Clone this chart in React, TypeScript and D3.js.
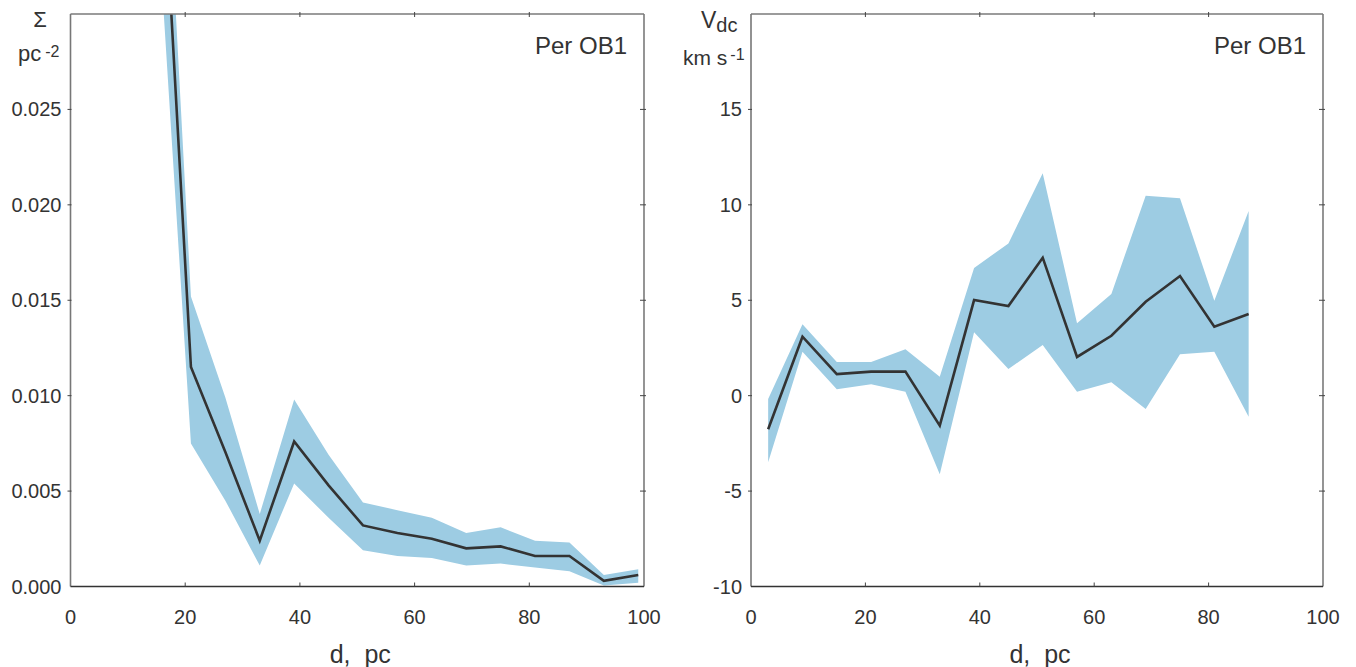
import React from "react";
import * as d3 from "d3";

// ---- Data ----
const distLeft = [3, 9, 15, 21, 27, 33, 39, 45, 51, 57, 63, 69, 75, 81, 87, 93, 99];
const sigma = [0.12, 0.075, 0.044, 0.0115, 0.00705, 0.0024, 0.0076, 0.0053, 0.0032, 0.0028, 0.0025, 0.002, 0.0021, 0.0016, 0.0016, 0.0003, 0.0006];
const sigmaLo = [0.1, 0.06, 0.036, 0.0075, 0.0045, 0.0011, 0.0054, 0.0036, 0.0019, 0.0016, 0.0015, 0.0011, 0.0012, 0.001, 0.0008, 0.00005, 0.0002];
const sigmaHi = [0.14, 0.09, 0.049, 0.0152, 0.0099, 0.0038, 0.0098, 0.0069, 0.0044, 0.004, 0.0036, 0.0028, 0.0031, 0.0024, 0.0023, 0.0006, 0.0009];

const distRight = [3, 9, 15, 21, 27, 33, 39, 45, 51, 57, 63, 69, 75, 81, 87];
const vdc = [-1.76, 3.09, 1.13, 1.26, 1.26, -1.57, 5.01, 4.7, 7.23, 2.03, 3.14, 4.92, 6.27, 3.61, 4.28];
const vdcLo = [-3.49, 2.3, 0.33, 0.6, 0.21, -4.12, 3.32, 1.4, 2.65, 0.21, 0.7, -0.7, 2.17, 2.3, -1.1];
const vdcHi = [-0.17, 3.74, 1.76, 1.76, 2.43, 0.99, 6.69, 7.98, 11.65, 3.79, 5.33, 10.48, 10.34, 4.98, 9.68];

const xTicks = [0, 20, 40, 60, 80, 100];
const sigmaTicks = [0, 0.005, 0.01, 0.015, 0.02, 0.025];
const sigmaTickLabels = ["0.000", "0.005", "0.010", "0.015", "0.020", "0.025"];
const vTicks = [-10, -5, 0, 5, 10, 15];
const vTickLabels = ["-10", "-5", "0", "5", "10", "15"];
const panelLabel = "Per OB1";
const xLabel = "d,\u00a0\u00a0pc";

const FONT = "'Liberation Sans', Arial, Helvetica, sans-serif";
const TXT = "#333";
const BAND = "#9dcce3";

type PanelProps = {
  id: string;
  x0: number;
  x1: number;
  yDomain: [number, number];
  xs: number[];
  ys: number[];
  lo: number[];
  hi: number[];
  yTicks: number[];
  yTickLabels: string[];
};

const TOP = 14;
const BOTTOM = 586.5;

function Panel({ id, x0, x1, yDomain, xs, ys, lo, hi, yTicks, yTickLabels }: PanelProps) {
  const x = d3.scaleLinear().domain([0, 100]).range([x0, x1]);
  const y = d3.scaleLinear().domain(yDomain).range([BOTTOM, TOP]);
  const idx = xs.map((_, i) => i);
  const area = d3
    .area<number>()
    .x((i) => x(xs[i]))
    .y0((i) => y(lo[i]))
    .y1((i) => y(hi[i]));
  const line = d3
    .line<number>()
    .x((i) => x(xs[i]))
    .y((i) => y(ys[i]));
  const innerTicks = xTicks.slice(1, -1);
  return (
    <g>
      <defs>
        <clipPath id={id}>
          <rect x={x0} y={TOP} width={x1 - x0} height={BOTTOM - TOP} />
        </clipPath>
      </defs>
      <g clipPath={`url(#${id})`}>
        <path d={area(idx) || ""} fill={BAND} stroke="none" />
        <path d={line(idx) || ""} fill="none" stroke="#333" strokeWidth={2.6} strokeLinejoin="miter" />
      </g>
      {/* frame */}
      <line x1={x0} x2={x1} y1={TOP} y2={TOP} stroke="#7a7a7a" strokeWidth={1.6} />
      <line x1={x1} x2={x1} y1={TOP} y2={BOTTOM} stroke="#7a7a7a" strokeWidth={1.6} />
      <line x1={x0} x2={x0} y1={TOP} y2={BOTTOM} stroke="#777" strokeWidth={1.6} />
      <line x1={x0} x2={x1} y1={BOTTOM} y2={BOTTOM} stroke="#333" strokeWidth={1.6} />
      {innerTicks.map((t) => (
        <g key={"b" + t}>
          <line x1={x(t)} x2={x(t)} y1={BOTTOM} y2={BOTTOM - 4} stroke="#444" strokeWidth={1} />
          <line x1={x(t)} x2={x(t)} y1={TOP - 2} y2={TOP + 3} stroke="#444" strokeWidth={1} />
        </g>
      ))}
      {xTicks.map((t) => (
        <text key={"xl" + t} x={x(t)} y={624} textAnchor="middle" fontSize={20} fill={TXT} fontFamily={FONT}>
          {t}
        </text>
      ))}
      {yTicks.map((t, i) => (
        <g key={"y" + t}>
          {i > 0 && (
            <>
              <line x1={x0 - 3} x2={x0 + 1} y1={y(t)} y2={y(t)} stroke="#444" strokeWidth={1} />
              <line x1={x1 - 4} x2={x1 + 2} y1={y(t)} y2={y(t)} stroke="#444" strokeWidth={1} />
            </>
          )}
          <text x={x0 - 9} y={y(t) + 7} textAnchor="end" fontSize={20} fill={TXT} fontFamily={FONT}>
            {yTickLabels[i]}
          </text>
        </g>
      ))}
      <text x={x1 - 17} y={54} textAnchor="end" fontSize={24} fill={TXT} fontFamily={FONT}>
        {panelLabel}
      </text>
      <text x={(x0 + x1) / 2 + 3} y={663} textAnchor="middle" fontSize={25} fill={TXT} fontFamily={FONT}>
        {xLabel}
      </text>
    </g>
  );
}

export default function App() {
  return (
    <svg
      width={1356}
      height={667}
      style={{ position: "absolute", left: 0, top: 0, background: "#fff" }}
      xmlns="http://www.w3.org/2000/svg"
    >
      <rect width={1356} height={667} fill="#fff" />
      <Panel
        id="clipL"
        x0={70.5}
        x1={644}
        yDomain={[0, 0.03]}
        xs={distLeft}
        ys={sigma}
        lo={sigmaLo}
        hi={sigmaHi}
        yTicks={sigmaTicks}
        yTickLabels={sigmaTickLabels}
      />
      <Panel
        id="clipR"
        x0={751}
        x1={1323}
        yDomain={[-10, 20]}
        xs={distRight}
        ys={vdc}
        lo={vdcLo}
        hi={vdcHi}
        yTicks={vTicks}
        yTickLabels={vTickLabels}
      />
      {/* left y-axis title */}
      <text x={40} y={27} textAnchor="middle" fontSize={22} fill={TXT} fontFamily={FONT}>
        Σ
      </text>
      <text x={18} y={61} fontSize={22} fill={TXT} fontFamily={FONT}>
        pc
        <tspan dx={4} dy={-4} fontSize={16}>-2</tspan>
      </text>
      {/* right y-axis title */}
      <text x={701} y={28} fontSize={23} fill={TXT} fontFamily={FONT}>
        V
        <tspan dy={4} fontSize={20}>dc</tspan>
      </text>
      <text x={683} y={65} fontSize={21} fill={TXT} fontFamily={FONT}>
        km s
        <tspan dx={3} dy={-5} fontSize={16}>-1</tspan>
      </text>
    </svg>
  );
}
